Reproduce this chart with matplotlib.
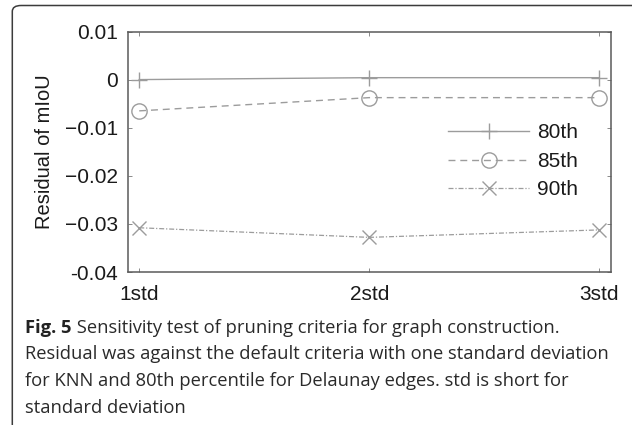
import matplotlib
matplotlib.use("Agg")
import matplotlib.pyplot as plt
from matplotlib.patches import FancyBboxPatch

# data
x_labels = ["1std", "2std", "3std"]
x_pos = [1, 2, 3]
p80 = [0.0, 0.0004, 0.0004]
p85 = [-0.0065, -0.00375, -0.00375]
p90 = [-0.0308, -0.0328, -0.03125]
series_names = ["80th", "85th", "90th"]
y_ticks = [0.01, 0, -0.01, -0.02, -0.03, -0.04]
y_ticklabels = ["0.01", "0", "\u22120.01", "\u22120.02", "\u22120.03", "-0.04"]

caption_lines = [
    "Sensitivity test of pruning criteria for graph construction.",
    "Residual was against the default criteria with one standard deviation",
    "for KNN and 80th percentile for Delaunay edges. std is short for",
    "standard deviation",
]

W, H = 632, 425
fig = plt.figure(figsize=(W / 100, H / 100), dpi=100)

# rounded frame of the journal figure box (only top-left corner visible)
frame = FancyBboxPatch((12.3 / W, -0.2), 1.2, 1 - 5.5 / H + 0.2,
                       boxstyle="round,pad=0,rounding_size=0.014",
                       transform=fig.transFigure, fill=False,
                       edgecolor="#3c3c3c", linewidth=1.1, clip_on=False)
fig.patches.append(frame)

ax = fig.add_axes([127.7 / W, 1 - 272 / H, (610.7 - 127.7) / W, (272 - 31.5) / H])

gray = "#9c9c9c"
ax.plot(x_pos, p80, color=gray, lw=1.0, marker="+", ms=12, mew=1.0,
        label=series_names[0])
ax.plot(x_pos, p85, color=gray, lw=1.0, ls=(0, (5, 3.5)), marker="o", ms=11,
        mew=1.0, mfc="none", label=series_names[1])
ax.plot(x_pos, p90, color=gray, lw=0.9, ls=(0, (4, 1.5, 1, 1.5)), marker="x",
        ms=10, mew=1.0, label=series_names[2])

ax.set_xlim(0.95, 3.05)
ax.set_ylim(-0.04, 0.01)
ax.set_xticks(x_pos)
ax.set_xticklabels(x_labels)
ax.set_yticks(y_ticks)
ax.set_yticklabels(y_ticklabels)

font = "Liberation Sans"
for lab in ax.get_xticklabels() + ax.get_yticklabels():
    lab.set_fontfamily(font)
    lab.set_fontsize(15)
    lab.set_color("#1a1a1a")
ax.tick_params(direction="in", length=3, width=0.6, color="#777777",
               top=True, right=True)
ax.tick_params(axis="y", pad=7)
ax.tick_params(axis="x", pad=9)
for s in ax.spines.values():
    s.set_color("#5a5a5a")
    s.set_linewidth(1.1)

ax.set_ylabel("Residual of mIoU", fontfamily=font, fontsize=14.5,
              color="#1a1a1a", labelpad=8)

leg = ax.legend(loc="upper left", bbox_to_anchor=(438 / W, 1 - 113 / H),
                bbox_transform=fig.transFigure, frameon=False, borderpad=0,
                handlelength=3.85, handletextpad=0.4, labelspacing=0.45,
                prop={"family": font, "size": 15})
for t in leg.get_texts():
    t.set_color("#1a1a1a")

# caption
cap_font = "Open Sans"
cap_size = 13.2
baselines = [332.7, 359, 386, 413]
fig.canvas.draw()
r = fig.canvas.get_renderer()
bold = fig.text(25 / W, 1 - baselines[0] / H, "Fig. 5", fontfamily=cap_font,
                fontweight="bold", fontsize=cap_size, va="baseline",
                color="#222222")
bw = bold.get_window_extent(renderer=r).width
for i, line in enumerate(caption_lines):
    x0 = 25 / W
    txt = line
    if i == 0:
        x0 = (25 + bw) / W
        txt = " " + line
    fig.text(x0, 1 - baselines[i] / H, txt, fontfamily=cap_font,
             fontsize=cap_size, va="baseline", color="#2a2a2a")

fig.savefig("out.png", dpi=100)
